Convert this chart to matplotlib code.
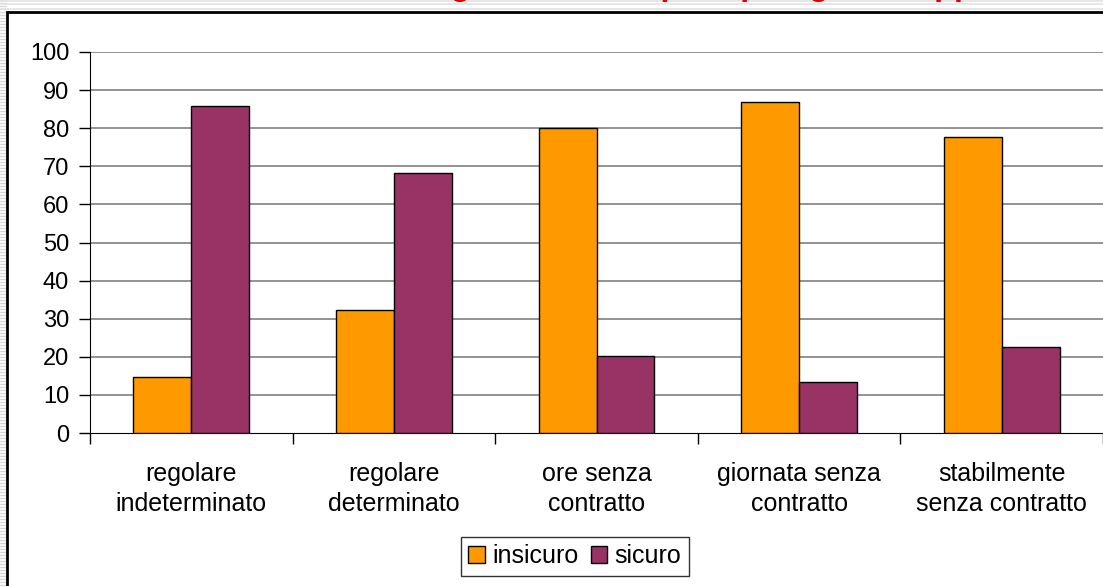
import matplotlib
matplotlib.use("Agg")
import matplotlib.pyplot as plt
from matplotlib.patches import Rectangle, Patch
from matplotlib.lines import Line2D
import numpy as np

categories = ["regolare\nindeterminato", "regolare\ndeterminato", "ore senza\ncontratto",
              "giornata senza\ncontratto", "stabilmente\nsenza contratto"]
insicuro = [14.8, 32.2, 80.0, 86.8, 77.8]
sicuro = [85.8, 68.2, 20.3, 13.5, 22.7]
series_labels = ["insicuro", "sicuro"]
yticks = list(range(0, 101, 10))
title = "Sicurezza del lavoro: giudizio dato per tipologia di rapporto"

W, H = 1103, 586
plt.rcParams['font.family'] = ['Liberation Sans', 'DejaVu Sans']
fig = plt.figure(figsize=(W / 100, H / 100), dpi=100)
fig.patch.set_facecolor('white')

def fx(x):
    return x / W

def fy(y):
    return 1 - y / H

# decorative striped slide background (left and top strips)
for y in range(0, H, 3):
    fig.add_artist(Line2D([0, fx(6)], [fy(y), fy(y)], color='#d9d9d9', lw=1.0, zorder=-3))
for y in (1, 4, 9):
    fig.add_artist(Line2D([0, 1], [fy(y), fy(y)], color='#e2e2e2', lw=1.2, zorder=-3))
# slide frame
fig.add_artist(Rectangle((fx(7), -0.01), 1.0, fy(12) + 0.01, transform=fig.transFigure,
                         facecolor='white', edgecolor='black', lw=2.0, zorder=-2))

# cut-off title (only descenders visible in reference)
fig.text(fx(1037), 1 + 5.5 / H, title, ha='right', va='baseline', color='#e00000',
         fontsize=23.5, fontweight='bold', zorder=-1)

ax = fig.add_axes([fx(90), fy(433), fx(1103) - fx(90), fy(52) - fy(433)])
x = np.arange(len(categories))
bw = 0.286
ax.bar(x - bw / 2, insicuro, bw, color='#FF9900', edgecolor='black', lw=1.0, zorder=3,
       label=series_labels[0])
ax.bar(x + bw / 2, sicuro, bw, color='#993366', edgecolor='black', lw=1.0, zorder=3,
       label=series_labels[1])

ax.set_xlim(-0.5, len(categories) - 0.5)
ax.set_ylim(0, 100)
ax.set_yticks(yticks)
ax.set_yticklabels([str(v) for v in yticks], fontsize=17)
ax.set_xticks(np.arange(len(categories) + 1) - 0.5)
ax.set_xticklabels([])
ax.set_xticks(x, minor=True)
ax.set_xticklabels(categories, minor=True, fontsize=18, linespacing=1.32)
ax.tick_params(axis='x', which='minor', length=0, pad=21)
ax.tick_params(axis='x', which='major', length=8, width=1, direction='out', color='black')
ax.tick_params(axis='y', length=8, width=1, direction='out', pad=7, color='black')
for yv in yticks[1:]:
    ax.axhline(yv, color='#808080', lw=1.2, zorder=1)
for s in ('top', 'right'):
    ax.spines[s].set_visible(False)
ax.spines['left'].set_color('black')
ax.spines['bottom'].set_color('black')
ax.set_facecolor('none')

handles = [Patch(facecolor='#FF9900', edgecolor='black', lw=1.0),
           Patch(facecolor='#993366', edgecolor='black', lw=1.0)]
leg = fig.legend(handles, series_labels, loc='center', bbox_to_anchor=(fx(575), fy(556)),
                 ncol=2, fontsize=18, frameon=True, fancybox=False, edgecolor='black',
                 handlelength=0.65, handleheight=0.65, handletextpad=0.3, columnspacing=0.5,
                 borderpad=0.3, borderaxespad=0)
leg.get_frame().set_linewidth(1.0)

fig.savefig("out.png", dpi=100)
